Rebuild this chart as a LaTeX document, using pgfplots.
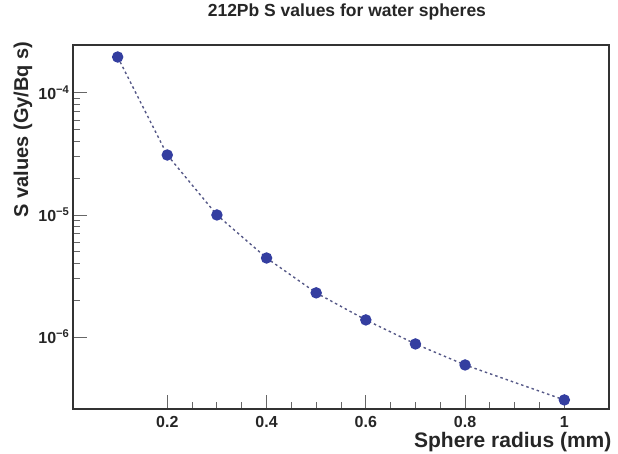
\documentclass[border=0pt]{standalone}
\usepackage{fontspec}
\setmainfont{Liberation Sans}
\usepackage{pgfplots}
\pgfplotsset{compat=1.18}
\definecolor{rootblue}{RGB}{52,62,160}
\definecolor{linegray}{RGB}{85,88,135}
\begin{document}
\begin{tikzpicture}
\useasboundingbox (-73pt,-45pt) rectangle (545pt,409pt);
\begin{axis}[
  at={(0,0)}, anchor=south west,
  scale only axis,
  width=536pt, height=364pt,
  ymode=log,
  xmin=0.01, xmax=1.09,
  ymin=2.57e-7, ymax=2.47e-4,
  axis line style={line width=1.3pt, black!80},
  xtick pos=bottom, ytick pos=left,
  tick align=inside,
  major tick length=14pt,
  minor tick length=7pt,
  tick style={black!60, line width=0.9pt},
  xtick={0.2,0.4,0.6,0.8,1},
  xticklabels={0.2,0.4,0.6,0.8,1},
  minor x tick num=3,
  ytick={1e-6,1e-5,1e-4},
  yticklabels={10\textsuperscript{−6},10\textsuperscript{−5},10\textsuperscript{−4}},
  ticklabel style={font=\bfseries\fontsize{16}{16}\selectfont, text=black!85},
  xticklabel style={yshift=-4pt},
  title={212Pb S values for water spheres},
  title style={at={(axis description cs:0.511,1.074)}, anchor=center,
    font=\bfseries\fontsize{17.5}{18}\selectfont, text=black!85},
  xlabel={Sphere radius (mm)},
  xlabel style={at={(axis description cs:1.011,-0.091)}, anchor=east,
    font=\bfseries\fontsize{21}{21}\selectfont, text=black!85},
  ylabel={S values (Gy/Bq s)},
  ylabel style={at={(axis description cs:-0.0933,1.019)}, anchor=east,
    font=\bfseries\fontsize{20}{20}\selectfont, text=black!85},
]
\addplot[color=linegray, line width=1.4pt, dash pattern=on 2.5pt off 3pt,
  mark=*, mark size=5pt, mark options={solid, fill=rootblue, draw=rootblue}]
  coordinates {
  (0.1,1.97e-4) (0.2,3.10e-5) (0.3,1.00e-5) (0.4,4.44e-6) (0.5,2.30e-6)
  (0.6,1.38e-6) (0.7,8.77e-7) (0.8,5.90e-7) (1.0,3.05e-7)
  };
\end{axis}
\end{tikzpicture}
\end{document}
